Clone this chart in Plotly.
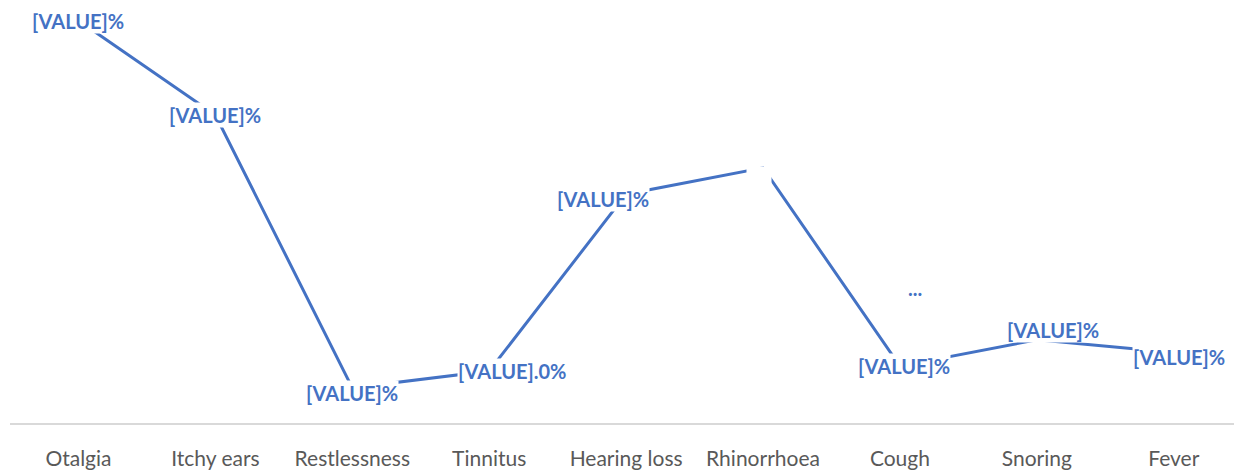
import plotly.graph_objects as go

categories = ["Otalgia", "Itchy ears", "Restlessness", "Tinnitus", "Hearing loss",
              "Rhinorrhoea", "Cough", "Snoring", "Fever"]
values = [50.3, 38.5, 4.4, 6.5, 28.6, 31.9, 7.1, 10.4, 8.8]
labels = ["[VALUE]%", "[VALUE]%", "[VALUE]%", "[VALUE].0%", "[VALUE]%",
          "...", "[VALUE]%", "[VALUE]%", "[VALUE]%"]
# label offsets in pixels (x, y up)
label_dx = [0, 0, 0, 23, -23, 152, 4, 16, 5]
label_dy = [0, 0, -5, 0, -5, -120, 0, 10, -4]

BLUE = "#4472C4"

fig = go.Figure()
fig.add_trace(go.Scatter(
    x=categories, y=values, mode="lines",
    line=dict(color=BLUE, width=3), hoverinfo="skip", showlegend=False,
))

for c, v, t, dx, dy in zip(categories, values, labels, label_dx, label_dy):
    fig.add_annotation(
        x=c, y=v, xref="x", yref="y", text=t, showarrow=False,
        xshift=dx, yshift=dy,
        font=dict(family="Lato", size=20, color=BLUE, weight="bold"),
        bgcolor="white" if t != "..." else "rgba(0,0,0,0)", borderpad=0,
    )

# white mask left at the Rhinorrhoea point (its label was moved away)
fig.add_annotation(
    x=categories[5], y=values[5], xref="x", yref="y",
    text="&nbsp;&nbsp;&nbsp;&nbsp;&nbsp;&nbsp;", showarrow=False,
    xshift=-4, yshift=-9,
    font=dict(family="Lato", size=14, color=BLUE),
    bgcolor="white", borderpad=1,
)

fig.update_layout(
    width=1234, height=474,
    margin=dict(l=10, r=0, t=0, b=51, autoexpand=False),
    paper_bgcolor="white", plot_bgcolor="white",
    xaxis=dict(
        type="category", range=[-0.5, 8.44], automargin=False,
        showgrid=False, zeroline=False,
        showline=True, linecolor="#D9D9D9", linewidth=2,
        ticks="", ticklabelstandoff=16,
        tickfont=dict(family="Lato", size=21, color="#595959"),
    ),
    yaxis=dict(range=[0, 52.875], visible=False, showgrid=False, zeroline=False,
               automargin=False),
)

fig.write_html("out.html", config={"displayModeBar": False},
               post_script="document.body.style.margin='0';document.body.style.overflow='hidden';")
